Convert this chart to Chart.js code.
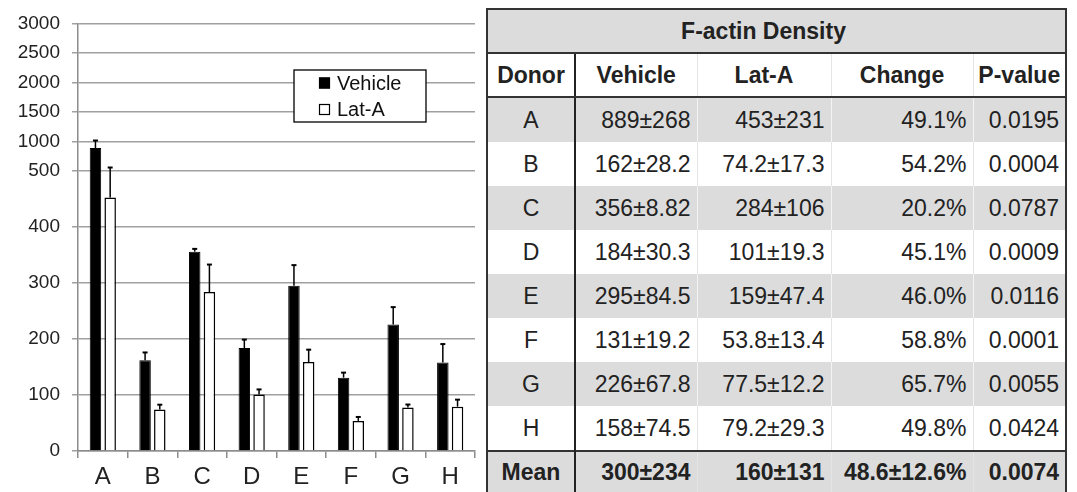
<!DOCTYPE html>
<html>
<head>
<meta charset="utf-8">
<title>F-actin Density</title>
<script src="https://cdn.jsdelivr.net/npm/chart.js@4.4.1/dist/chart.umd.min.js"></script>
<style>
  html, body { margin:0; padding:0; background:#fff; width:1077px; height:492px; overflow:hidden;
    font-family:"Liberation Sans", Arial, sans-serif; }
  #chartBox { position:absolute; left:0; top:0; width:484px; height:492px; }
  #stats { position:absolute; left:486px; top:8px; width:579px; border-collapse:collapse; table-layout:fixed;
    font-size:23px; color:#222; border:2px solid #333; }
  #stats td { padding:0 6px 0 0; text-align:right; height:44px; border-left:1px solid #e4e4e4; }
  #stats td:first-child { text-align:center; padding:0; border-right:2px solid #222; }
  #stats tr.gray td { background:#dcdcdc; border-left-color:#f4f4f4; }
  #stats tr.gray td:first-child { border-left:none; }
  #stats tr.title td { background:#dcdcdc; font-weight:bold; text-align:center; padding-right:26px;
    border-bottom:2px solid #333; border-right:none; height:42px; }
  #stats tr.head td { font-weight:bold; text-align:center; padding:0; border-bottom:2px solid #333; height:42px; }
  #stats tr.mean td { background:#dcdcdc; font-weight:bold; border-top:2px solid #333; height:40px; }
</style>
</head>
<body>
<div id="chartBox"><canvas id="graph" width="484" height="492"></canvas></div>
<table id="stats">
  <colgroup><col style="width:88px"><col style="width:122px"><col style="width:134px"><col style="width:142px"><col style="width:93px"></colgroup>
  <tbody id="statsBody"></tbody>
</table>
<script>
const donors = ['A', 'B', 'C', 'D', 'E', 'F', 'G', 'H'];
const vehicleMean = [889, 162, 356, 184, 295, 131, 226, 158];
const latAMean = [453, 74.2, 284, 101, 159, 53.8, 77.5, 79.2];
// error bars as drawn on the chart
const vehicleErr = [128, 14, 5, 15, 37, 9, 31, 33];
const latAErr = [107, 8.5, 49, 9, 22, 7, 5.5, 12.5];
// table columns
const vehicleSD = ['268', '28.2', '8.82', '30.3', '84.5', '19.2', '67.8', '74.5'];
const latASD = ['231', '17.3', '106', '19.3', '47.4', '13.4', '12.2', '29.3'];
const changePct = ['49.1%', '54.2%', '20.2%', '45.1%', '46.0%', '58.8%', '65.7%', '49.8%'];
const pValues = ['0.0195', '0.0004', '0.0787', '0.0009', '0.0116', '0.0001', '0.0055', '0.0424'];
const meanRow = ['Mean', '300±234', '160±131', '48.6±12.6%', '0.0074'];
const headRow = ['Donor', 'Vehicle', 'Lat-A', 'Change', 'P-value'];
const yTickLabels = [0, 100, 200, 300, 400, 500, 1000, 1500, 2000, 2500, 3000];

// broken axis: linear to 500, compressed above
const BREAK = 500, UPPER = 0.1055;
const toAxis = v => v <= BREAK ? v : BREAK + (v - BREAK) * UPPER;

const FONT = '"Liberation Sans", Arial, sans-serif';

const errorBars = {
  id: 'errorBars',
  afterDatasetsDraw(chart) {
    const {ctx, scales: {y}} = chart;
    ctx.save();
    ctx.strokeStyle = '#000';
    chart.data.datasets.forEach((ds, di) => {
      chart.getDatasetMeta(di).data.forEach((bar, i) => {
        const top = y.getPixelForValue(toAxis(ds.raw[i] + ds.errors[i]));
        ctx.lineWidth = 1.5;
        ctx.beginPath();
        ctx.moveTo(bar.x, bar.y);
        ctx.lineTo(bar.x, top);
        ctx.stroke();
        ctx.lineWidth = 2;
        ctx.beginPath();
        ctx.moveTo(bar.x - 2.5, top);
        ctx.lineTo(bar.x + 2.5, top);
        ctx.stroke();
      });
    });
    ctx.restore();
  }
};

const boxLegend = {
  id: 'boxLegend',
  afterDraw(chart) {
    const {ctx} = chart;
    const x = 294, y = 70, w = 132, h = 52;
    ctx.save();
    ctx.fillStyle = '#fff';
    ctx.fillRect(x, y, w, h);
    ctx.strokeStyle = '#000';
    ctx.lineWidth = 1.3;
    ctx.strokeRect(x, y, w, h);
    ctx.font = '20px ' + FONT;
    chart.data.datasets.forEach((ds, i) => {
      const cy = y + 13 + i * 26.5;
      ctx.fillStyle = ds.backgroundColor;
      ctx.fillRect(x + 25, cy - 5.5, 11, 11);
      ctx.strokeStyle = '#000';
      ctx.lineWidth = 1.2;
      ctx.strokeRect(x + 25.5, cy - 5, 10, 10);
      ctx.fillStyle = '#111';
      ctx.fillText(ds.label, x + 43, cy + 6.5);
    });
    ctx.restore();
  }
};

new Chart(document.getElementById('graph'), {
  type: 'bar',
  data: {
    labels: donors,
    datasets: [
      {label: 'Vehicle', data: vehicleMean.map(toAxis), raw: vehicleMean, errors: vehicleErr,
       backgroundColor: '#000', borderColor: '#000', borderWidth: 1},
      {label: 'Lat-A', data: latAMean.map(toAxis), raw: latAMean, errors: latAErr,
       backgroundColor: '#fff', borderColor: '#000', borderWidth: 1.5}
    ]
  },
  options: {
    responsive: false,
    animation: false,
    layout: {padding: {top: 21, right: 9, left: 0, bottom: 0}},
    datasets: {bar: {categoryPercentage: 0.593, barPercentage: 0.78}},
    plugins: {legend: {display: false}, tooltip: {enabled: false}},
    scales: {
      x: {
        grid: {drawOnChartArea: false, color: '#8c8c8c', lineWidth: 1.5, tickLength: 7},
        border: {color: '#8c8c8c', width: 1.5},
        ticks: {color: '#222', font: {size: 24, family: FONT}, padding: 5},
        afterFit: s => { s.height = 41; }
      },
      y: {
        min: 0,
        max: toAxis(3000),
        grid: {color: '#a0a0a0', lineWidth: 1.5, tickLength: 6},
        border: {color: '#8c8c8c', width: 1.5},
        ticks: {color: '#222', font: {size: 19, family: FONT}, padding: 12,
                callback: (v, i) => yTickLabels[i]},
        afterBuildTicks: s => { s.ticks = yTickLabels.map(v => ({value: toAxis(v)})); },
        afterFit: s => { s.width = 78; }
      }
    }
  },
  plugins: [errorBars, boxLegend]
});

// table
const body = document.getElementById('statsBody');
function addRow(cells, cls) {
  const tr = document.createElement('tr');
  if (cls) tr.className = cls;
  cells.forEach(c => {
    const td = document.createElement('td');
    td.textContent = c;
    tr.appendChild(td);
  });
  body.appendChild(tr);
  return tr;
}
const t = addRow(['F-actin Density'], 'title');
t.firstChild.colSpan = 5;
addRow(headRow, 'head');
donors.forEach((d, i) => {
  addRow([d, vehicleMean[i] + '±' + vehicleSD[i], latAMean[i] + '±' + latASD[i], changePct[i], pValues[i]],
         i % 2 === 0 ? 'gray' : '');
});
addRow(meanRow, 'mean');
</script>
</body>
</html>
